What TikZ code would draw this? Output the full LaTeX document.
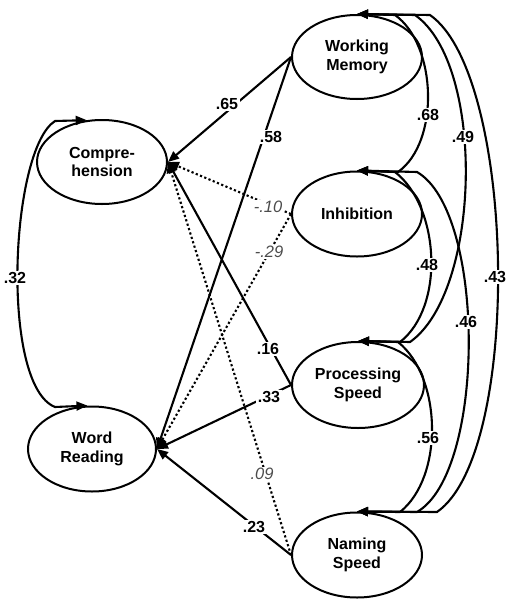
\documentclass[tikz,border=0pt]{standalone}
\usepackage{fontspec}
\setmainfont{Liberation Sans}
\usetikzlibrary{shapes.geometric,arrows.meta}
\begin{document}
\begin{tikzpicture}[x=1pt,y=-1pt,
  lat/.style={ellipse,draw,line width=2pt,minimum width=130pt,minimum height=84pt,inner sep=0pt,align=center,font=\bfseries\fontsize{16}{18.5}\selectfont},
  reg/.style={line width=2.1pt,-{Triangle[length=11pt,width=9pt]}},
  nsig/.style={reg,dash pattern=on 2.2pt off 2.4pt},
  cov/.style={line width=2.1pt,{Triangle[length=11pt,width=9pt]}-{Triangle[length=11pt,width=9pt]}},
  lab/.style={fill=white,inner sep=1.5pt,font=\bfseries\fontsize{16}{18}\selectfont},
  nlab/.style={fill=white,inner sep=1.5pt,text=black!70,font=\itshape\fontsize{16.5}{18}\selectfont}
]
\fill[white] (0,0) rectangle (509,600);
\useasboundingbox (0,0) rectangle (509,600);

% latent variables
\node[lat] (comp) at (102,162) {Compre-\\hension};
\node[lat,minimum width=128pt,minimum height=85pt] (wr) at (92,449) {Word\\Reading};
\node[lat] (wm) at (357,57) {Working\\Memory};
\node[lat,minimum height=85pt] (inh) at (357,214) {Inhibition};
\node[lat,minimum width=132pt,minimum height=86pt] (ps) at (358,385) {Processing\\Speed};
\node[lat,minimum height=85pt] (nam) at (357,555) {Naming\\Speed};

% regression paths
\draw[reg] (wm.west) -- (comp.east);
\draw[reg] (wm.west) -- (wr.east);
\draw[nsig] (inh.west) -- (comp.east);
\draw[nsig] (inh.west) -- (wr.east);
\draw[reg] (ps.west) -- (comp.east);
\draw[reg] (ps.west) -- (wr.east);
\draw[nsig] (nam.west) -- (comp.east);
\draw[reg] (nam.west) -- (wr.east);

% covariances
\draw[cov] (comp.110) -- (55,121) .. controls (10,150) and (0,385) .. (55,407) -- (wr.96);
\draw[cov] (wm.north) -- (395,15) .. controls (437,45) and (440,142) .. (398,172) -- (inh.north);
\draw[cov] (wm.north) -- (415,15) .. controls (486,65) and (481,292) .. (410,342) -- (ps.north);
\draw[cov] (wm.north) -- (430,15) .. controls (516,75) and (523,452) .. (437,512) -- (nam.north);
\draw[cov] (inh.north) -- (395,172) .. controls (440,207) and (445,307) .. (400,342) -- (ps.north);
\draw[cov] (inh.north) -- (417,172) .. controls (486,212) and (486,472) .. (417,512) -- (nam.north);
\draw[cov] (ps.north) -- (398,342) .. controls (442,377) and (444,477) .. (400,512) -- (nam.north);

% labels
\node[lab] (l32) at (15,278) {.32};
\node[lab] (l65) at (227,104) {.65};
\node[lab] (l58) at (271,137) {.58};
\node[nlab] (l10) at (268,207) {-.10};
\node[nlab] (l29) at (269,252) {-.29};
\node[lab] (l16) at (268,349) {.16};
\node[lab] (l33) at (269,397) {.33};
\node[nlab] (l09) at (262,474) {.09};
\node[lab] (l23) at (254,527) {.23};
\node[lab] (l68) at (428,115) {.68};
\node[lab] (l49) at (463,137) {.49};
\node[lab] (l43) at (495,277) {.43};
\node[lab] (l48) at (427,265) {.48};
\node[lab] (l46) at (466,322) {.46};
\node[lab] (l56) at (428,438) {.56};
\end{tikzpicture}
\end{document}
